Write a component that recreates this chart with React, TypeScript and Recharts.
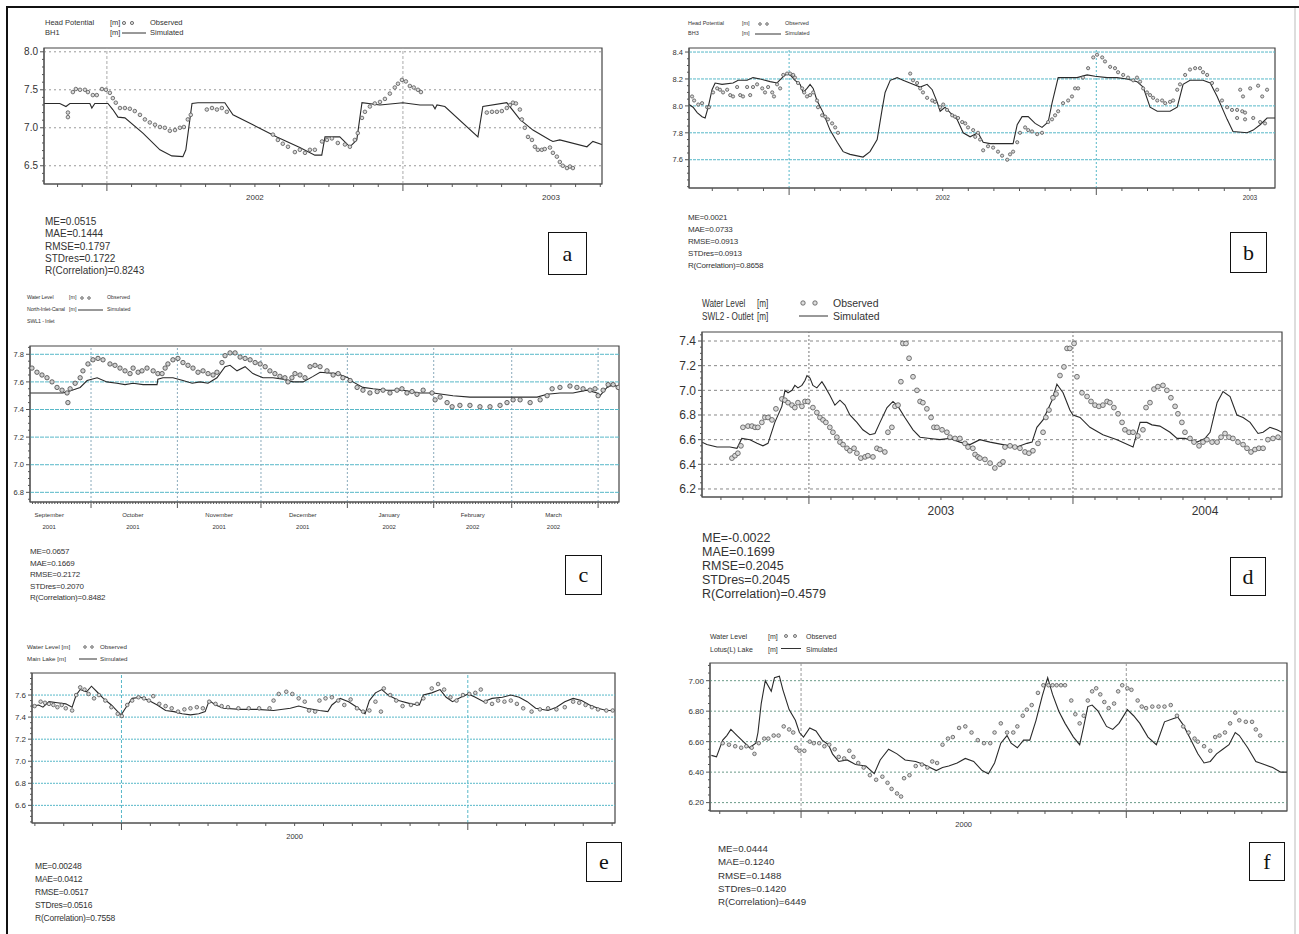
import React from 'react';
import { ComposedChart, Line, Scatter, XAxis, YAxis, ReferenceLine, ReferenceArea } from 'recharts';

type Pt = [number, number];

// ---------------- Panel a : Head Potential BH1 (x = months from Jan 2002) ----------------
const A_SIM: Pt[] = [[-2.55,7.32],[-1.91,7.32],[-1.66,7.28],[-1.50,7.32],[-0.69,7.32],[-0.61,7.26],[-0.49,7.32],[0.04,7.32],[0.24,7.24],[0.45,7.14],[0.73,7.13],[1.46,6.93],[2.15,6.71],[2.63,6.63],[3.08,6.62],[3.20,6.71],[3.45,7.32],[3.69,7.33],[4.78,7.33],[5.11,7.17],[5.92,7.04],[6.89,6.88],[7.82,6.74],[8.43,6.64],[8.71,6.64],[8.84,6.88],[9.44,6.88],[9.85,6.75],[10.13,6.84],[10.34,7.33],[11.07,7.30],[12.0,7.33],[12.69,7.30],[13.21,7.30],[13.30,7.25],[13.38,7.30],[13.70,7.28],[15.04,6.88],[15.24,7.28],[16.21,7.33],[16.74,7.11],[17.27,6.97],[17.96,6.84],[18.08,6.82],[18.36,6.84],[19.46,6.75],[19.70,6.82],[20.06,6.78]];
const A_OBS: Pt[] = [[-1.58,7.20],[-1.58,7.14],[-1.38,7.47],[-1.26,7.51],[-1.09,7.50],[-0.89,7.50],[-0.77,7.47],[-0.57,7.43],[-0.41,7.43],[-0.20,7.51],[-0.04,7.50],[0.12,7.46],[0.24,7.39],[0.36,7.33],[0.53,7.26],[0.73,7.26],[0.93,7.25],[1.13,7.22],[1.34,7.17],[1.54,7.11],[1.74,7.07],[1.95,7.04],[2.15,7.01],[2.35,7.00],[2.55,6.96],[2.76,6.97],[2.96,7.00],[3.12,7.01],[3.28,7.11],[3.40,7.17],[4.05,7.24],[4.26,7.26],[4.46,7.24],[4.66,7.26],[4.86,7.21],[6.73,6.91],[6.93,6.84],[7.13,6.79],[7.34,6.75],[7.62,6.68],[7.82,6.71],[8.03,6.67],[8.23,6.71],[8.43,6.71],[8.72,6.82],[8.92,6.84],[9.12,6.86],[9.36,6.80],[9.65,6.78],[9.85,6.75],[10.05,6.84],[10.17,6.93],[10.34,7.13],[10.46,7.21],[10.66,7.28],[10.86,7.32],[11.07,7.34],[11.27,7.38],[11.47,7.45],[11.67,7.53],[11.80,7.58],[11.96,7.63],[12.12,7.61],[12.28,7.55],[12.44,7.53],[12.61,7.50],[12.73,7.47],[15.40,7.20],[15.61,7.21],[15.81,7.21],[16.01,7.22],[16.21,7.26],[16.34,7.30],[16.46,7.33],[16.58,7.32],[16.74,7.24],[16.82,7.11],[16.94,7.00],[17.07,6.88],[17.23,6.84],[17.35,6.75],[17.47,6.71],[17.63,6.71],[17.75,6.72],[17.96,6.74],[18.08,6.67],[18.24,6.62],[18.36,6.55],[18.48,6.50],[18.65,6.47],[18.77,6.49],[18.89,6.47]];
const A_Y_MAJOR = [6.5, 7.0, 7.5, 8.0];
const A_X_LABELS = [{ at: 6, lines: ['2002'] }, { at: 18, lines: ['2003'] }];
const A_STATS = ['ME=0.0515', 'MAE=0.1444', 'RMSE=0.1797', 'STDres=0.1722', 'R(Correlation)=0.8243'];
const A_LEGEND = ['Head Potential', 'BH1'];

// ---------------- Panel b : Head Potential BH3 (x = months from Jan 2002) ----------------
const B_SIM: Pt[] = [[-3.91,8.01],[-3.75,7.99],[-3.59,7.95],[-3.40,7.92],[-3.28,7.91],[-3.16,7.99],[-3.01,8.12],[-2.89,8.17],[-2.62,8.16],[-2.19,8.17],[-1.99,8.19],[-1.64,8.19],[-1.41,8.21],[-1.13,8.20],[-0.74,8.18],[-0.47,8.17],[-0.27,8.21],[-0.08,8.24],[0.04,8.23],[0.23,8.19],[0.43,8.16],[0.55,8.10],[0.70,8.13],[0.82,8.16],[0.94,8.13],[1.09,8.04],[1.33,7.95],[1.60,7.82],[1.88,7.73],[2.11,7.66],[2.38,7.64],[2.89,7.62],[3.16,7.66],[3.44,7.75],[3.63,7.97],[3.75,8.10],[3.95,8.19],[4.22,8.21],[4.45,8.19],[4.84,8.16],[5.12,8.14],[5.39,8.16],[5.59,8.12],[5.78,8.03],[5.90,7.96],[6.09,7.99],[6.29,7.95],[6.56,7.90],[6.80,7.80],[7.07,7.77],[7.38,7.80],[7.58,7.73],[7.85,7.72],[8.75,7.72],[8.91,7.86],[9.10,7.92],[9.34,7.92],[9.61,7.87],[9.88,7.84],[10.12,7.88],[10.27,8.02],[10.51,8.21],[10.86,8.21],[11.25,8.21],[11.64,8.23],[11.95,8.22],[12.42,8.21],[12.81,8.21],[13.20,8.20],[13.59,8.18],[13.83,8.14],[14.10,7.99],[14.38,7.96],[14.88,7.96],[15.16,7.99],[15.39,8.16],[15.66,8.19],[16.17,8.19],[16.45,8.17],[16.72,8.07],[17.11,7.90],[17.34,7.81],[17.89,7.80],[18.13,7.82],[18.40,7.86],[18.67,7.91],[18.98,7.91]];
const B_OBS: Pt[] = [[-3.79,8.07],[-3.71,8.04],[-3.55,8.01],[-3.40,8.02],[-3.20,7.99],[-3.13,7.99],[-2.97,8.10],[-2.81,8.13],[-2.70,8.12],[-2.58,8.10],[-2.42,8.12],[-2.30,8.08],[-2.19,8.07],[-2.03,8.14],[-1.91,8.08],[-1.80,8.07],[-1.64,8.14],[-1.52,8.08],[-1.41,8.14],[-1.25,8.16],[-1.05,8.13],[-0.94,8.10],[-0.82,8.14],[-0.66,8.10],[-0.59,8.07],[-0.47,8.16],[-0.35,8.13],[-0.23,8.23],[-0.08,8.24],[0.04,8.24],[0.16,8.23],[0.23,8.21],[0.35,8.17],[0.51,8.13],[0.59,8.10],[0.70,8.07],[0.82,8.08],[0.94,8.10],[1.09,8.04],[1.13,7.99],[1.29,7.93],[1.41,7.92],[1.52,7.90],[1.68,7.87],[1.80,7.84],[1.91,7.80],[4.73,8.24],[4.84,8.19],[5.00,8.17],[5.12,8.13],[5.23,8.10],[5.39,8.06],[5.59,8.04],[5.70,8.03],[5.90,7.99],[6.02,8.01],[6.17,7.97],[6.37,7.93],[6.48,7.92],[6.60,7.91],[6.76,7.88],[6.88,7.87],[6.99,7.84],[7.19,7.82],[7.38,7.80],[7.27,7.77],[7.46,7.75],[7.58,7.67],[7.77,7.70],[7.97,7.69],[8.16,7.66],[8.32,7.63],[8.52,7.60],[8.63,7.64],[8.75,7.66],[8.91,7.73],[9.02,7.80],[9.22,7.84],[9.34,7.82],[9.49,7.81],[9.69,7.79],[9.88,7.80],[10.12,7.88],[10.27,7.90],[10.39,7.93],[10.51,7.96],[10.70,8.02],[10.90,8.04],[11.05,8.07],[11.17,8.13],[11.29,8.13],[11.48,8.21],[11.68,8.28],[11.88,8.36],[12.03,8.38],[12.23,8.36],[12.34,8.33],[12.54,8.29],[12.73,8.28],[12.85,8.25],[13.05,8.23],[13.24,8.21],[13.44,8.19],[13.59,8.21],[13.71,8.18],[13.83,8.13],[13.98,8.10],[14.10,8.08],[14.22,8.06],[14.38,8.04],[14.57,8.04],[14.69,8.02],[14.88,8.03],[15.00,8.04],[15.16,8.12],[15.27,8.16],[15.47,8.23],[15.66,8.27],[15.86,8.28],[16.05,8.28],[16.17,8.25],[16.33,8.23],[16.52,8.17],[16.72,8.12],[16.91,8.04],[17.11,7.99],[17.30,7.97],[17.50,7.97],[17.70,7.96],[17.81,7.95],[17.62,8.12],[18.01,8.13],[18.32,8.15],[18.67,8.12],[17.73,8.07],[18.48,8.07],[17.50,7.91],[17.81,7.90],[18.13,7.91],[18.40,7.88],[18.59,7.87]];
const B_Y_MAJOR = [7.6, 7.8, 8.0, 8.2, 8.4];
const B_X_LABELS = [{ at: 6, lines: ['2002'] }, { at: 18, lines: ['2003'] }];
const B_STATS = ['ME=0.0021', 'MAE=0.0733', 'RMSE=0.0913', 'STDres=0.0913', 'R(Correlation)=0.8658'];
const B_LEGEND = ['Head Potential', 'BH3'];

// ---------------- Panel c : SWL1 - Inlet (x = days from 1 Oct 2001) ----------------
const C_SIM: Pt[] = [[-21.9,7.52],[-10.1,7.52],[-6.8,7.54],[-3.9,7.56],[-1.4,7.61],[2.2,7.63],[5.7,7.60],[9.3,7.59],[12.2,7.58],[15.1,7.59],[18.7,7.58],[23.7,7.58],[24.0,7.62],[25.8,7.63],[29.4,7.63],[33.0,7.61],[36.3,7.59],[39.1,7.60],[42.0,7.59],[45.2,7.63],[48.1,7.71],[49.9,7.72],[52.4,7.68],[55.3,7.71],[58.1,7.66],[61.7,7.63],[65.3,7.63],[68.9,7.62],[72.5,7.60],[76.1,7.60],[79.7,7.64],[82.2,7.67],[88.3,7.66],[92.2,7.63],[94.0,7.60],[97.6,7.56],[101.2,7.55],[106.2,7.54],[112.0,7.54],[118.1,7.52],[122.8,7.52],[129.9,7.50],[136.0,7.49],[160.1,7.49],[163.7,7.51],[168.3,7.52],[173.0,7.52],[178.0,7.54],[181.6,7.52],[182.7,7.50],[185.2,7.56],[187.4,7.58],[189.5,7.56]];
const C_OBS: Pt[] = [[-21.2,7.70],[-19.4,7.67],[-17.6,7.65],[-15.8,7.63],[-14.0,7.60],[-12.2,7.56],[-10.4,7.54],[-8.6,7.52],[-8.3,7.45],[-7.5,7.55],[-5.7,7.59],[-3.9,7.63],[-2.9,7.68],[-1.1,7.73],[0.7,7.76],[2.5,7.77],[4.3,7.76],[6.8,7.73],[8.6,7.72],[10.4,7.70],[12.2,7.68],[14.0,7.66],[15.1,7.70],[16.9,7.67],[18.3,7.68],[20.1,7.70],[22.3,7.68],[24.0,7.66],[25.5,7.66],[26.6,7.70],[27.6,7.73],[29.4,7.76],[31.2,7.77],[33.0,7.74],[34.8,7.72],[36.6,7.70],[38.4,7.67],[40.2,7.68],[42.0,7.66],[43.8,7.65],[45.2,7.67],[47.0,7.74],[48.1,7.79],[49.9,7.81],[51.7,7.81],[53.5,7.78],[55.3,7.77],[57.1,7.76],[58.9,7.74],[60.7,7.73],[62.5,7.71],[64.2,7.68],[66.0,7.66],[67.8,7.64],[69.6,7.63],[70.7,7.60],[72.1,7.63],[73.2,7.66],[75.0,7.65],[76.8,7.63],[78.6,7.71],[80.4,7.72],[82.2,7.71],[84.7,7.68],[86.9,7.65],[88.7,7.66],[90.4,7.63],[93.0,7.61],[95.5,7.56],[97.6,7.54],[100.1,7.52],[102.7,7.53],[104.8,7.54],[107.3,7.52],[109.8,7.54],[111.6,7.55],[113.4,7.52],[115.2,7.53],[117.0,7.51],[119.2,7.54],[122.4,7.52],[123.5,7.47],[125.3,7.49],[127.8,7.45],[129.6,7.42],[132.4,7.43],[136.0,7.43],[139.6,7.42],[143.2,7.42],[146.8,7.43],[149.3,7.45],[151.5,7.47],[154.0,7.47],[157.6,7.45],[161.2,7.47],[163.7,7.50],[165.5,7.55],[168.3,7.56],[171.9,7.57],[174.4,7.56],[176.6,7.55],[179.1,7.54],[180.9,7.55],[182.0,7.50],[183.8,7.54],[185.6,7.58],[187.4,7.58],[189.2,7.56]];
const C_Y_MAJOR = [6.8, 7.0, 7.2, 7.4, 7.6, 7.8];
const C_MONTH_LINES = [0, 31, 61, 92, 123, 151, 182];
const C_X_LABELS = [
  { at: -15, lines: ['September', '2001'] }, { at: 15, lines: ['October', '2001'] }, { at: 46, lines: ['November', '2001'] },
  { at: 76, lines: ['December', '2001'] }, { at: 107, lines: ['January', '2002'] }, { at: 137, lines: ['February', '2002'] },
  { at: 166, lines: ['March', '2002'] },
];
const C_STATS = ['ME=0.0657', 'MAE=0.1669', 'RMSE=0.2172', 'STDres=0.2070', 'R(Correlation)=0.8482'];
const C_LEGEND = ['Water Level', 'North-Inlet-Canal', 'SWL1 - Inlet'];

// ---------------- Panel d : SWL2 - Outlet (x = months from Jan 2003) ----------------
const D_SIM: Pt[] = [[-4.86,6.58],[-4.64,6.56],[-4.18,6.54],[-3.59,6.54],[-3.27,6.53],[-3.05,6.61],[-2.68,6.60],[-2.36,6.57],[-2.09,6.55],[-1.86,6.57],[-1.55,6.74],[-1.23,6.87],[-1.09,7.00],[-0.95,6.98],[-0.77,7.00],[-0.64,7.04],[-0.50,7.02],[-0.32,7.04],[-0.18,7.08],[-0.09,7.12],[0.05,7.10],[0.18,7.04],[0.36,7.02],[0.59,7.07],[0.73,7.03],[0.95,6.96],[1.18,6.88],[1.41,6.92],[1.64,6.88],[1.86,6.80],[2.18,6.74],[2.45,6.68],[2.77,6.64],[3.00,6.65],[3.23,6.74],[3.55,6.86],[3.82,6.91],[4.05,6.87],[4.36,6.78],[4.73,6.68],[5.05,6.62],[5.50,6.61],[5.95,6.60],[6.41,6.61],[6.86,6.58],[7.32,6.56],[7.77,6.60],[8.23,6.58],[8.82,6.56],[9.45,6.54],[9.91,6.57],[10.14,6.58],[10.36,6.70],[10.64,6.76],[11.05,6.92],[11.27,7.05],[11.55,6.98],[11.86,6.84],[12.00,6.80],[12.32,6.78],[12.77,6.70],[13.36,6.64],[14.00,6.60],[14.73,6.54],[15.05,6.74],[15.36,6.74],[15.59,6.72],[15.95,6.71],[16.41,6.66],[16.73,6.61],[17.09,6.61],[17.64,6.58],[18.00,6.61],[18.23,6.66],[18.55,6.90],[18.82,6.99],[19.14,6.95],[19.45,6.80],[19.73,6.78],[20.05,6.74],[20.41,6.65],[20.64,6.66],[20.95,6.70],[21.27,6.68],[21.50,6.66]];
const D_OBS: Pt[] = [[-3.50,6.45],[-3.36,6.47],[-3.23,6.49],[-3.09,6.55],[-3.00,6.70],[-2.77,6.71],[-2.59,6.71],[-2.45,6.70],[-2.32,6.70],[-2.14,6.74],[-2.00,6.78],[-1.86,6.78],[-1.68,6.76],[-1.50,6.85],[-1.23,6.93],[-1.09,6.92],[-0.95,6.90],[-0.77,6.88],[-0.64,6.86],[-0.50,6.90],[-0.32,6.87],[-0.18,6.91],[-0.05,6.91],[0.18,6.86],[0.36,6.82],[0.50,6.78],[0.64,6.76],[0.77,6.74],[0.95,6.70],[1.09,6.66],[1.27,6.62],[1.41,6.58],[1.55,6.56],[1.73,6.53],[1.86,6.51],[2.05,6.53],[2.18,6.49],[2.36,6.45],[2.55,6.46],[2.68,6.47],[2.91,6.46],[3.09,6.53],[3.23,6.52],[3.45,6.50],[3.59,6.66],[3.77,6.70],[3.91,6.87],[4.05,6.88],[4.18,7.07],[4.27,7.38],[4.41,7.38],[4.55,7.26],[4.73,7.11],[4.91,7.00],[5.05,6.91],[5.18,6.90],[5.36,6.85],[5.55,6.78],[5.68,6.70],[5.82,6.70],[6.05,6.68],[6.27,6.66],[6.41,6.62],[6.64,6.61],[6.86,6.61],[7.09,6.57],[7.23,6.54],[7.45,6.53],[7.55,6.48],[7.68,6.46],[7.77,6.45],[8.00,6.44],[8.23,6.41],[8.45,6.37],[8.68,6.40],[8.82,6.42],[8.91,6.54],[9.14,6.55],[9.36,6.54],[9.59,6.53],[9.82,6.50],[10.00,6.49],[10.18,6.51],[10.41,6.57],[10.64,6.66],[10.77,6.78],[10.91,6.84],[11.09,6.94],[11.23,6.97],[11.41,7.12],[11.59,7.19],[11.73,7.34],[11.86,7.34],[12.05,7.38],[12.18,7.11],[12.41,6.98],[12.64,6.95],[12.82,6.91],[13.00,6.88],[13.18,6.87],[13.36,6.88],[13.55,6.91],[13.68,6.90],[13.86,6.86],[14.05,6.81],[14.23,6.74],[14.36,6.68],[14.55,6.66],[14.73,6.66],[14.95,6.63],[15.18,6.68],[15.32,6.86],[15.50,6.90],[15.68,7.01],[15.86,7.03],[16.09,7.04],[16.27,7.00],[16.45,6.94],[16.64,6.87],[16.77,6.81],[16.95,6.74],[17.09,6.66],[17.32,6.61],[17.50,6.58],[17.73,6.55],[17.91,6.58],[18.09,6.60],[18.32,6.58],[18.55,6.58],[18.73,6.62],[18.91,6.65],[19.09,6.62],[19.27,6.61],[19.50,6.58],[19.73,6.56],[19.91,6.53],[20.09,6.50],[20.27,6.52],[20.45,6.53],[20.64,6.53],[20.86,6.60],[21.09,6.61],[21.32,6.62]];
const D_Y_MAJOR = [6.2, 6.4, 6.6, 6.8, 7.0, 7.2, 7.4];
const D_X_LABELS = [{ at: 6, lines: ['2003'] }, { at: 18, lines: ['2004'] }];
const D_STATS = ['ME=-0.0022', 'MAE=0.1699', 'RMSE=0.2045', 'STDres=0.2045', 'R(Correlation)=0.4579'];
const D_LEGEND = ['Water Level', 'SWL2 - Outlet'];

// ---------------- Panel e : Main Lake (x = months from Jan 2000) ----------------
const E_SIM: Pt[] = [[-3.11,7.50],[-2.87,7.51],[-2.72,7.49],[-2.51,7.54],[-2.22,7.53],[-1.93,7.52],[-1.71,7.49],[-1.57,7.60],[-1.43,7.65],[-1.21,7.63],[-1.04,7.68],[-0.85,7.63],[-0.63,7.57],[-0.35,7.51],[-0.13,7.45],[-0.01,7.42],[0.16,7.49],[0.37,7.57],[0.66,7.58],[0.95,7.55],[1.24,7.51],[1.53,7.46],[1.82,7.45],[2.10,7.43],[2.39,7.42],[2.68,7.43],[2.90,7.45],[3.04,7.55],[3.26,7.51],[3.54,7.48],[4.12,7.47],[4.70,7.47],[5.27,7.46],[5.85,7.48],[6.14,7.50],[6.43,7.48],[6.86,7.46],[7.15,7.45],[7.29,7.51],[7.58,7.57],[7.87,7.54],[8.16,7.49],[8.44,7.43],[8.59,7.55],[8.80,7.62],[9.02,7.65],[9.24,7.60],[9.60,7.55],[10.03,7.52],[10.32,7.51],[10.46,7.60],[10.75,7.62],[11.04,7.65],[11.25,7.58],[11.47,7.54],[11.76,7.58],[12.02,7.61],[12.26,7.58],[12.55,7.54],[12.84,7.57],[13.20,7.58],[13.49,7.60],[13.78,7.58],[14.06,7.54],[14.35,7.48],[14.78,7.46],[15.07,7.49],[15.36,7.54],[15.65,7.57],[15.94,7.55],[16.22,7.51],[16.51,7.48],[16.80,7.46],[17.12,7.46]];
const E_OBS: Pt[] = [[-3.01,7.50],[-2.80,7.54],[-2.65,7.53],[-2.51,7.52],[-2.36,7.51],[-2.22,7.49],[-2.07,7.51],[-1.93,7.48],[-1.71,7.46],[-1.57,7.60],[-1.43,7.67],[-1.28,7.65],[-1.14,7.61],[-0.95,7.57],[-0.78,7.60],[-0.56,7.55],[-0.35,7.49],[-0.13,7.43],[0.01,7.41],[0.20,7.51],[0.37,7.55],[0.59,7.58],[0.78,7.57],[0.95,7.55],[1.10,7.59],[1.31,7.52],[1.53,7.50],[1.74,7.48],[1.96,7.45],[2.18,7.47],[2.39,7.48],[2.61,7.49],[2.82,7.48],[3.04,7.54],[3.26,7.52],[3.47,7.50],[3.69,7.49],[4.05,7.48],[4.41,7.48],[4.77,7.48],[5.13,7.48],[5.27,7.55],[5.45,7.61],[5.71,7.63],[5.92,7.61],[6.14,7.57],[6.35,7.54],[6.50,7.46],[6.71,7.45],[6.86,7.55],[7.07,7.57],[7.29,7.58],[7.51,7.55],[7.72,7.51],[7.94,7.56],[8.16,7.48],[8.37,7.45],[8.59,7.46],[8.80,7.54],[8.99,7.45],[9.09,7.66],[9.31,7.60],[9.52,7.55],[9.74,7.50],[10.03,7.51],[10.24,7.52],[10.46,7.57],[10.75,7.66],[10.97,7.70],[11.18,7.65],[11.40,7.58],[11.61,7.55],[11.83,7.60],[12.05,7.61],[12.26,7.62],[12.45,7.65],[12.62,7.54],[12.84,7.52],[13.05,7.55],[13.27,7.54],[13.49,7.55],[13.70,7.52],[13.92,7.48],[14.21,7.45],[14.50,7.47],[14.78,7.48],[15.07,7.47],[15.36,7.49],[15.65,7.54],[15.86,7.53],[16.08,7.51],[16.30,7.49],[16.51,7.47],[16.80,7.46],[17.02,7.46]];
const E_Y_MAJOR = [6.6, 6.8, 7.0, 7.2, 7.4, 7.6];
const E_X_LABELS = [{ at: 6, lines: ['2000'] }];
const E_STATS = ['ME=0.00248', 'MAE=0.0412', 'RMSE=0.0517', 'STDres=0.0516', 'R(Correlation)=0.7558'];
const E_LEGEND = ['Water Level [m]', 'Main Lake  [m]'];

// ---------------- Panel f : Lotus(L) Lake (x = months from Jan 2000) ----------------
const F_SIM: Pt[] = [[-3.31,6.51],[-3.12,6.50],[-2.89,6.61],[-2.74,6.64],[-2.59,6.68],[-2.36,6.64],[-2.13,6.60],[-1.90,6.56],[-1.67,6.59],[-1.59,6.66],[-1.47,6.85],[-1.32,7.00],[-1.10,6.93],[-0.98,7.02],[-0.80,7.03],[-0.67,6.94],[-0.44,6.81],[-0.21,6.74],[-0.06,6.66],[0.09,6.63],[0.32,6.69],[0.55,6.67],[0.78,6.61],[1.01,6.58],[1.16,6.52],[1.39,6.47],[1.70,6.48],[2.01,6.45],[2.39,6.44],[2.70,6.39],[2.92,6.48],[3.23,6.55],[3.54,6.52],[3.84,6.48],[4.23,6.47],[4.53,6.45],[4.99,6.41],[5.22,6.43],[5.45,6.44],[5.76,6.46],[6.06,6.49],[6.37,6.47],[6.68,6.41],[6.91,6.39],[7.14,6.46],[7.37,6.59],[7.60,6.64],[7.75,6.59],[7.98,6.56],[8.21,6.61],[8.44,6.61],[8.67,6.74],[8.90,6.90],[9.10,7.02],[9.28,6.91],[9.51,6.80],[9.74,6.72],[10.05,6.63],[10.28,6.58],[10.43,6.70],[10.58,6.83],[10.74,6.84],[10.96,6.80],[11.27,6.70],[11.50,6.68],[11.73,6.72],[12.04,6.81],[12.27,6.77],[12.50,6.72],[12.80,6.63],[13.11,6.58],[13.41,6.73],[13.72,6.75],[13.90,6.76],[14.10,6.71],[14.33,6.63],[14.64,6.52],[14.87,6.46],[15.10,6.47],[15.33,6.52],[15.56,6.55],[15.79,6.58],[16.02,6.66],[16.17,6.64],[16.48,6.56],[16.78,6.47],[17.09,6.45],[17.40,6.43],[17.70,6.40],[17.93,6.40]];
const F_OBS: Pt[] = [[-2.89,6.59],[-2.66,6.58],[-2.43,6.57],[-2.21,6.56],[-2.02,6.57],[-1.82,6.56],[-1.72,6.52],[-1.56,6.59],[-1.36,6.62],[-1.21,6.62],[-1.01,6.64],[-0.83,6.64],[-0.64,6.70],[-0.44,6.68],[-0.29,6.66],[-0.18,6.56],[-0.06,6.54],[0.12,6.54],[0.32,6.60],[0.47,6.59],[0.67,6.59],[0.86,6.57],[1.04,6.58],[1.24,6.55],[1.39,6.50],[1.59,6.49],[1.78,6.54],[1.93,6.50],[2.11,6.46],[2.31,6.43],[2.54,6.38],[2.77,6.35],[3.00,6.37],[3.19,6.33],[3.34,6.29],[3.54,6.26],[3.69,6.24],[3.80,6.36],[4.00,6.38],[4.23,6.44],[4.46,6.45],[4.66,6.43],[4.84,6.47],[5.02,6.46],[5.22,6.58],[5.42,6.62],[5.60,6.63],[5.83,6.69],[6.06,6.70],[6.29,6.66],[6.52,6.61],[6.75,6.59],[6.98,6.59],[7.14,6.66],[7.37,6.72],[7.60,6.66],[7.83,6.66],[7.98,6.70],[8.18,6.77],[8.33,6.81],[8.51,6.84],[8.74,6.92],[8.94,6.97],[9.13,6.97],[9.28,6.97],[9.43,6.97],[9.59,6.97],[9.74,6.97],[9.97,6.87],[10.12,6.78],[10.28,6.72],[10.43,6.77],[10.58,6.87],[10.74,6.93],[10.89,6.95],[11.04,6.91],[11.19,6.86],[11.35,6.82],[11.55,6.85],[11.70,6.93],[11.85,6.97],[12.04,6.95],[12.19,6.94],[12.42,6.87],[12.57,6.83],[12.73,6.82],[12.96,6.83],[13.19,6.83],[13.41,6.83],[13.64,6.84],[13.87,6.77],[14.10,6.70],[14.30,6.66],[14.52,6.62],[14.64,6.60],[14.87,6.57],[15.10,6.54],[15.28,6.63],[15.44,6.64],[15.64,6.66],[15.83,6.72],[16.02,6.79],[16.17,6.74],[16.41,6.73],[16.64,6.73],[16.78,6.68],[16.94,6.64]];
const F_Y_MAJOR = [6.2, 6.4, 6.6, 6.8, 7.0];
const F_X_LABELS = [{ at: 6, lines: ['2000'] }];
const F_STATS = ['ME=0.0444', 'MAE=0.1240', 'RMSE=0.1488', 'STDres=0.1420', 'R(Correlation)=6449'];
const F_LEGEND = ['Water Level', 'Lotus(L)  Lake'];

// ------------------------------------------------------------------------------------------
const FONT = '"Liberation Sans", Arial, sans-serif';
const MT = 5, MR = 5, YW = 44, XH = 44;

function steps(a: number, b: number, s: number): number[] {
  const out: number[] = [];
  const n = Math.round((b - a) / s);
  for (let i = 0; i <= n; i++) out.push(+(a + i * s).toFixed(4));
  return out;
}
const near = (arr: number[], v: number) => arr.some((m) => Math.abs(m - v) < 1e-6);

interface PanelCfg {
  l: number; t: number; r: number; b: number;
  xDomain: [number, number]; yDomain: [number, number];
  xTicks: number[]; xMajor: number[]; xLabels: { at: number; lines: string[] }[];
  yTicks: number[]; yMajor: number[]; yDigits: number;
  sim: Pt[]; obs: Pt[];
  gridColor: string; gridDash: string; vColor: string; vDash: string;
  yFont: number; xFont: number; xLabelDy: number; xLabelLh: number;
  obsR: number; obsFill: string; obsStroke: string;
  xMinorLen: number; xMajorLen: number; yMinorLen: number; yMajorLen: number;
}

function Panel({ c }: { c: PanelCfg }) {
  const pw = c.r - c.l, ph = c.b - c.t;
  const axisY = MT + ph;
  const simData = c.sim.map(([x, y]) => ({ x, y }));
  const obsData = c.obs.map(([x, y]) => ({ x, y }));
  const xTick = (p: any) => {
    const v = p.payload.value;
    const x = p.x;
    const major = near(c.xMajor, v);
    const lab = c.xLabels.find((L) => Math.abs(L.at - v) < 1e-6);
    return (
      <g>
        <line x1={x} x2={x} y1={axisY} y2={axisY + (major ? c.xMajorLen : c.xMinorLen)} stroke="#555" strokeWidth={1} />
        {lab && lab.lines.map((s, i) => (
          <text key={i} x={x} y={axisY + c.xLabelDy + i * c.xLabelLh} textAnchor="middle" fontSize={c.xFont} fontFamily={FONT} fill="#333">{s}</text>
        ))}
      </g>
    );
  };
  const yTick = (p: any) => {
    const v = p.payload.value;
    const y = p.y;
    const major = near(c.yMajor, v);
    return (
      <g>
        <line x1={YW - (major ? c.yMajorLen : c.yMinorLen)} x2={YW} y1={y} y2={y} stroke="#555" strokeWidth={1} />
        {major && (
          <text x={YW - c.yMajorLen - 2} y={y + c.yFont * 0.36} textAnchor="end" fontSize={c.yFont} fontFamily={FONT} fill="#333">{v.toFixed(c.yDigits)}</text>
        )}
      </g>
    );
  };
  return (
    <div style={{ position: 'absolute', left: c.l - YW, top: c.t - MT }}>
      <ComposedChart width={pw + YW + MR} height={ph + MT + XH} margin={{ top: MT, right: MR, bottom: 0, left: 0 }}>
        <XAxis type="number" dataKey="x" domain={c.xDomain} allowDataOverflow ticks={c.xTicks} interval={0} height={XH} tick={xTick} tickLine={false} axisLine={{ stroke: '#555' }} />
        <YAxis type="number" dataKey="y" domain={c.yDomain} allowDataOverflow ticks={c.yTicks} interval={0} width={YW} tick={yTick} tickLine={false} axisLine={{ stroke: '#555' }} />
        {c.yMajor.map((v) => (
          <ReferenceLine key={'h' + v} y={v} stroke={c.gridColor} strokeDasharray={c.gridDash} strokeWidth={1} />
        ))}
        {c.xMajor.map((v) => (
          <ReferenceLine key={'v' + v} x={v} stroke={c.vColor} strokeDasharray={c.vDash} strokeWidth={1} />
        ))}
        <ReferenceArea x1={c.xDomain[0]} x2={c.xDomain[1]} y1={c.yDomain[0]} y2={c.yDomain[1]} fill="none" fillOpacity={0} stroke="#444" strokeWidth={1.2} ifOverflow="visible" />
        <Line data={simData} dataKey="y" type="linear" dot={false} activeDot={false} stroke="#2a2a2a" strokeWidth={1.1} isAnimationActive={false} />
        <Scatter data={obsData} dataKey="y" isAnimationActive={false}
          shape={(p: any) => <circle cx={p.cx} cy={p.cy} r={c.obsR} fill={c.obsFill} stroke={c.obsStroke} strokeWidth={0.8} />} />
      </ComposedChart>
    </div>
  );
}

function Txt({ x, y, size, children, ls = 0, sx = 1, color = '#333' }: { x: number; y: number; size: number; children: React.ReactNode; ls?: number; sx?: number; color?: string }) {
  return (
    <div style={{ position: 'absolute', left: x, top: y, transform: `translateY(-50%) scaleX(${sx})`, transformOrigin: 'left center', fontSize: size, fontFamily: FONT, color, whiteSpace: 'nowrap', lineHeight: 1, letterSpacing: ls }}>{children}</div>
  );
}

interface LegCfg { x: number; y: number; dy: number; font: number; left: string[]; unitX?: number; m1: number; m2: number; lx1: number; lx2: number; textX: number; mr: number; ls?: number; sx?: number }
function Legend({ g }: { g: LegCfg }) {
  return (
    <>
      {g.left.map((s, i) => <Txt key={i} x={g.x} y={g.y + i * g.dy} size={g.font} ls={g.ls || 0} sx={g.sx || 1}>{s}</Txt>)}
      {g.unitX !== undefined && [0, 1].map((i) => <Txt key={'u' + i} x={g.unitX as number} y={g.y + i * g.dy} size={g.font} sx={g.sx || 1}>[m]</Txt>)}
      <svg style={{ position: 'absolute', left: 0, top: 0, overflow: 'visible' }} width={1} height={1}>
        <circle cx={g.m1} cy={g.y} r={g.mr} fill="#ddd" stroke="#555" strokeWidth={0.8} />
        <circle cx={g.m2} cy={g.y} r={g.mr} fill="#ddd" stroke="#555" strokeWidth={0.8} />
        <line x1={g.lx1} x2={g.lx2} y1={g.y + g.dy} y2={g.y + g.dy} stroke="#333" strokeWidth={1} />
      </svg>
      <Txt x={g.textX} y={g.y} size={g.font}>Observed</Txt>
      <Txt x={g.textX} y={g.y + g.dy} size={g.font}>Simulated</Txt>
    </>
  );
}

function Stats({ x, y, dy, size, lines, ls = 0 }: { x: number; y: number; dy: number; size: number; lines: string[]; ls?: number }) {
  return <>{lines.map((s, i) => <Txt key={i} x={x} y={y + i * dy} size={size} ls={ls}>{s}</Txt>)}</>;
}

function Box({ l, t, w, h, ch }: { l: number; t: number; w: number; h: number; ch: string }) {
  return (
    <div style={{ position: 'absolute', left: l, top: t, width: w, height: h, border: '1.5px solid #111', boxSizing: 'border-box', display: 'flex', alignItems: 'center', justifyContent: 'center', fontFamily: '"Liberation Serif", "Times New Roman", serif', fontSize: 22, color: '#111', background: '#fff' }}>{ch}</div>
  );
}

const CYAN = '#57b8c8';
const base = { obsFill: '#d8d8d8', obsStroke: '#555', xLabelLh: 12, xMinorLen: 3, xMajorLen: 7, yMinorLen: 2, yMajorLen: 4 };

const PA: PanelCfg = { ...base, l: 44, t: 48, r: 602, b: 184, xDomain: [-2.55, 20.07], yDomain: [6.26, 8.05], xTicks: steps(-2, 20, 1), xMajor: [0, 12], xLabels: A_X_LABELS, yTicks: steps(6.3, 8.0, 0.1), yMajor: A_Y_MAJOR, yDigits: 1, sim: A_SIM, obs: A_OBS, gridColor: '#999', gridDash: '2 3', vColor: '#aaa', vDash: '3 2', yFont: 10, xFont: 8, xLabelDy: 16, obsR: 1.8 };
const PB: PanelCfg = { ...base, l: 689, t: 48, r: 1275, b: 188, xDomain: [-3.91, 18.98], yDomain: [7.39, 8.43], xTicks: steps(-3, 18, 1), xMajor: [0, 12], xLabels: B_X_LABELS, yTicks: steps(7.4, 8.4, 0.05), yMajor: B_Y_MAJOR, yDigits: 1, sim: B_SIM, obs: B_OBS, gridColor: CYAN, gridDash: '3 1', vColor: CYAN, vDash: '2 2', yFont: 7.5, xFont: 6.5, xLabelDy: 12, obsR: 1.6 };
const PC: PanelCfg = { ...base, l: 30, t: 346, r: 619, b: 502, xDomain: [-21.9, 189.5], yDomain: [6.73, 7.86], xTicks: steps(-21, 189, 1), xMajor: C_MONTH_LINES, xLabels: C_X_LABELS, yTicks: steps(6.75, 7.85, 0.05), yMajor: C_Y_MAJOR, yDigits: 1, sim: C_SIM, obs: C_OBS, gridColor: CYAN, gridDash: '4 1', vColor: '#8aaabb', vDash: '2 2', yFont: 7.5, xFont: 6, xLabelDy: 15, xLabelLh: 12, obsR: 2.2, obsFill: '#cfcfcf', obsStroke: '#444', xMinorLen: 2, xMajorLen: 6 };
const PD: PanelCfg = { ...base, l: 702, t: 332, r: 1282, b: 497, xDomain: [-4.86, 21.5], yDomain: [6.135, 7.473], xTicks: steps(-4, 21, 1), xMajor: [0, 12], xLabels: D_X_LABELS, yTicks: steps(6.15, 7.45, 0.05), yMajor: D_Y_MAJOR, yDigits: 1, sim: D_SIM, obs: D_OBS, gridColor: '#888', gridDash: '3 3', vColor: '#777', vDash: '2 2', yFont: 12, xFont: 12, xLabelDy: 18, obsR: 2.4 };
const PE: PanelCfg = { ...base, l: 32, t: 673, r: 615, b: 823, xDomain: [-3.1, 17.1], yDomain: [6.44, 7.8], xTicks: steps(-3, 17, 1), xMajor: [0, 12], xLabels: E_X_LABELS, yTicks: steps(6.45, 7.8, 0.05), yMajor: E_Y_MAJOR, yDigits: 1, sim: E_SIM, obs: E_OBS, gridColor: CYAN, gridDash: '2 1', vColor: CYAN, vDash: '3 2', yFont: 8, xFont: 7.5, xLabelDy: 16, obsR: 1.8 };
const PF: PanelCfg = { ...base, l: 710, t: 663, r: 1287, b: 811, xDomain: [-3.36, 17.93], yDomain: [6.145, 7.116], xTicks: steps(-3, 17, 1), xMajor: [0, 12], xLabels: F_X_LABELS, yTicks: steps(6.15, 7.1, 0.05), yMajor: F_Y_MAJOR, yDigits: 2, sim: F_SIM, obs: F_OBS, gridColor: '#6a9a88', gridDash: '2 2', vColor: '#999', vDash: '3 2', yFont: 8, xFont: 7.5, xLabelDy: 16, obsR: 1.8 };

export default function App() {
  return (
    <div style={{ position: 'absolute', left: 0, top: 0, width: 1299, height: 934, background: '#fff', overflow: 'hidden' }}>
      {/* page frame */}
      <div style={{ position: 'absolute', left: 6, top: 6, width: 1293, height: 2, background: '#111' }} />
      <div style={{ position: 'absolute', left: 6, top: 6, width: 2, height: 928, background: '#111' }} />
      <div style={{ position: 'absolute', left: 1294, top: 8, width: 2, height: 926, background: '#ddd' }} />

      <Legend g={{ x: 45, y: 23, dy: 10, font: 7.5, left: A_LEGEND, unitX: 110, m1: 124, m2: 132, lx1: 122, lx2: 146, textX: 150, mr: 1.6 }} />
      <Panel c={PA} />
      <Stats x={45} y={222} dy={12.3} size={10} lines={A_STATS} />
      <Box l={548} t={232} w={39} h={43} ch="a" />

      <Legend g={{ x: 688, y: 24, dy: 10, font: 5.5, left: B_LEGEND, unitX: 742, m1: 760, m2: 767, lx1: 755, lx2: 781, textX: 785, mr: 1.3 }} />
      <Panel c={PB} />
      <Stats x={688} y={218} dy={12} size={8} ls={-0.2} lines={B_STATS} />
      <Box l={1230} t={232} w={37} h={41} ch="b" />

      <Legend g={{ x: 27, y: 298, dy: 12, font: 5.3, ls: -0.15, left: C_LEGEND, unitX: 69, m1: 82, m2: 89, lx1: 78, lx2: 103, textX: 107, mr: 1.3 }} />
      <Panel c={PC} />
      <Stats x={30} y={552} dy={11.5} size={8} ls={-0.2} lines={C_STATS} />
      <Box l={565} t={555} w={37} h={40} ch="c" />

      <Legend g={{ x: 702, y: 303, dy: 13, font: 10.5, sx: 0.78, left: D_LEGEND, unitX: 757, m1: 803, m2: 815, lx1: 799, lx2: 828, textX: 833, mr: 2.2 }} />
      <Panel c={PD} />
      <Stats x={702} y={538} dy={14} size={12.5} lines={D_STATS} />
      <Box l={1230} t={557} w={36} h={39} ch="d" />

      <Legend g={{ x: 27, y: 647, dy: 12, font: 6.2, left: E_LEGEND, m1: 85, m2: 92, lx1: 79, lx2: 97, textX: 100, mr: 1.3 }} />
      <Panel c={PE} />
      <Stats x={35} y={866} dy={13} size={8.5} ls={-0.2} lines={E_STATS} />
      <Box l={586} t={842} w={36} h={40} ch="e" />

      <Legend g={{ x: 710, y: 636, dy: 12.5, font: 7, left: F_LEGEND, unitX: 768, m1: 786, m2: 795, lx1: 781, lx2: 801, textX: 806, mr: 1.5 }} />
      <Panel c={PF} />
      <Stats x={718} y={849} dy={13.3} size={9.7} lines={F_STATS} />
      <Box l={1249} t={842} w={36} h={39} ch="f" />
    </div>
  );
}
